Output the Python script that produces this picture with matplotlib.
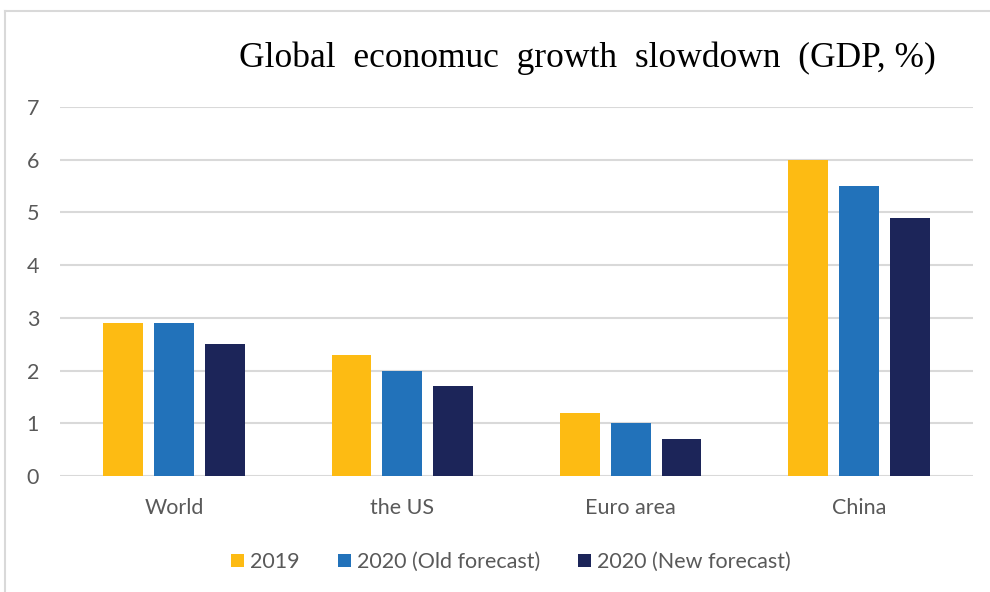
import matplotlib
matplotlib.use("Agg")
import matplotlib.pyplot as plt
import numpy as np
from matplotlib.lines import Line2D
from matplotlib.patches import Patch

categories = ["World", "the US", "Euro area", "China"]
series_names = ["2019", "2020 (Old forecast)", "2020 (New forecast)"]
v2019 = [2.9, 2.3, 1.2, 6.0]
v2020_old = [2.9, 2.0, 1.0, 5.5]
v2020_new = [2.5, 1.7, 0.7, 4.9]
yticks = [0, 1, 2, 3, 4, 5, 6, 7]
colors = ["#FDBB13", "#2272BA", "#1C2559"]

plt.rcParams['font.family'] = ['Lato', 'DejaVu Sans']

fig = plt.figure(figsize=(9.9, 5.92), dpi=100)
ax = fig.add_axes([60/990, 1-476/592, (973-60)/990, (476-107)/592])

x = np.arange(len(categories))
w = 0.175
step = 0.223
for i, (vals, c) in enumerate(zip([v2019, v2020_old, v2020_new], colors)):
    ax.bar(x + (i-1)*step, vals, width=w, color=c, zorder=3, label=series_names[i])

ax.set_xlim(-0.5, len(categories)-0.5)
ax.set_ylim(0, 7)
ax.set_yticks(yticks)
ax.set_xticks(x)
ax.set_xticklabels(categories)
ax.tick_params(axis='both', length=0, labelsize=15.5, labelcolor="#595959")
ax.tick_params(axis='y', pad=15)
ax.tick_params(axis='x', pad=16)
ax.grid(axis='y', color="#D9D9D9", linewidth=1.5, zorder=0)
for s in ax.spines.values():
    s.set_visible(False)

handles = [Patch(facecolor=c, edgecolor='none') for c in colors]
fig.legend(handles, series_names, loc='center', bbox_to_anchor=(511/990, 1-562/592),
           ncol=3, frameon=False, fontsize=15.5, labelcolor="#595959",
           handlelength=0.6, handleheight=0.6, handletextpad=0.3, columnspacing=1.75)

fig.text(587/990, 1-58/592, "Global  economuc  growth  slowdown  (GDP, %)",
         ha='center', va='center', fontsize=25.5, family=['Liberation Serif'], color='black')

fig.add_artist(Line2D([5/990, 1], [1-11/592, 1-11/592], color="#D9D9D9", linewidth=1.5))
fig.add_artist(Line2D([5/990, 5/990], [0, 1-11/592], color="#D9D9D9", linewidth=1.5))

fig.savefig("out.png", dpi=100)
